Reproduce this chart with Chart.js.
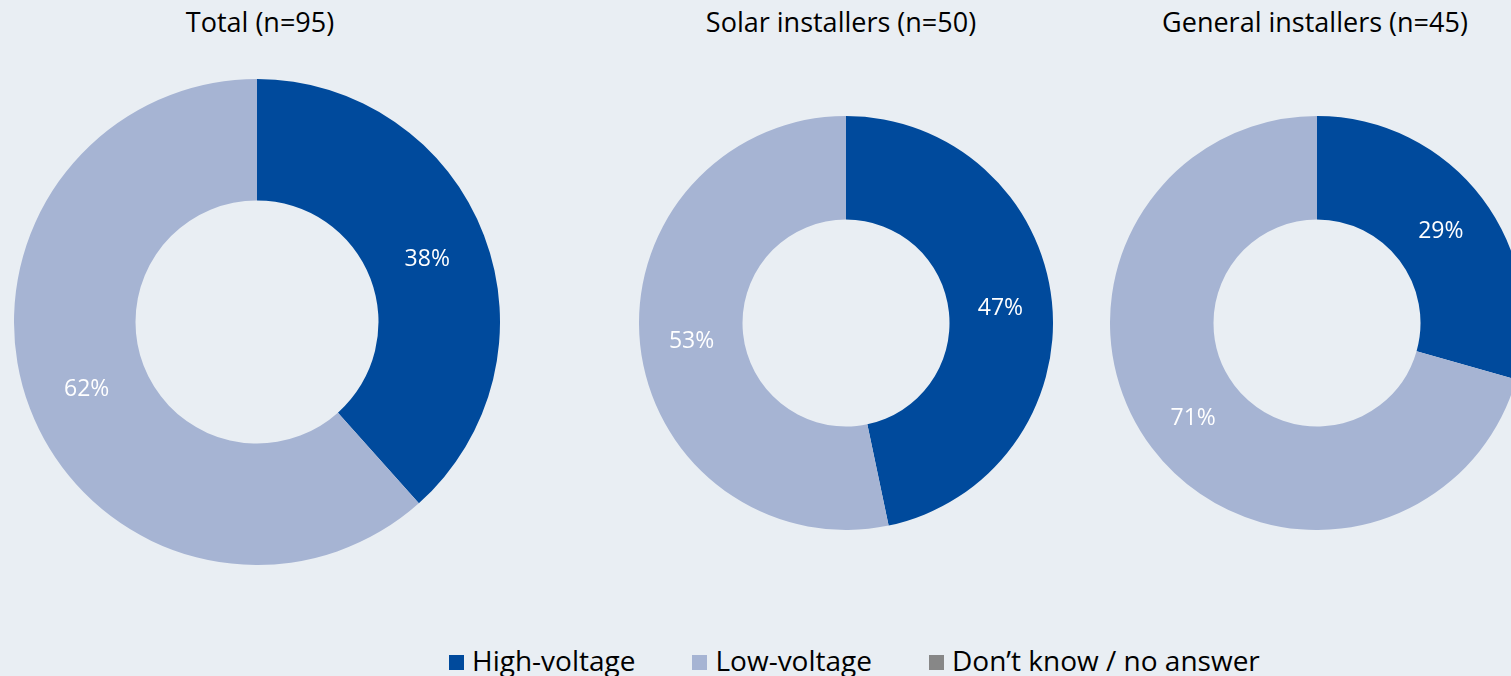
<!DOCTYPE html>
<html>
<head>
<meta charset="utf-8">
<script src="https://cdn.jsdelivr.net/npm/chart.js@4.4.1/dist/chart.umd.min.js"></script>
<style>
  html, body { margin: 0; padding: 0; }
  body {
    width: 1511px; height: 676px; overflow: hidden; position: relative;
    background: #e9eef3; font-family: "Open Sans", sans-serif; color: #000;
  }
  .title { position: absolute; top: 3px; font-size: 27px; text-align: center; width: 500px; white-space: nowrap; }
  .box { position: absolute; }
  #legend { position: absolute; top: 641px; left: 449px; font-size: 28px; white-space: nowrap; }
  #legend span.item { display: inline-block; margin-right: 57px; }
  #legend span.sw { display: inline-block; width: 15px; height: 15px; margin-right: 8px; vertical-align: 1px; }
</style>
</head>
<body>
<div class="title" style="left:10px">Total (n=95)</div>
<div class="title" style="left:591px">Solar installers (n=50)</div>
<div class="title" style="left:1065px">General installers (n=45)</div>

<div class="box" style="left:14px;top:79px;width:486px;height:486px"><canvas id="c0"></canvas></div>
<div class="box" style="left:639px;top:116px;width:414px;height:414px"><canvas id="c1"></canvas></div>
<div class="box" style="left:1110px;top:116px;width:414px;height:414px"><canvas id="c2"></canvas></div>

<div id="legend"></div>

<script>
const categories = ["High-voltage", "Low-voltage", "Don\u2019t know / no answer"];
const colors = ["#004a9c", "#a6b4d3", "#878787"];

const totalValues = [38.4, 61.6, 0];
const solarValues = [46.7, 53.3, 0];
const generalValues = [29.4, 70.6, 0];

// white percentage labels in the middle of each slice
const sliceLabels = {
  id: "sliceLabels",
  afterDatasetsDraw(chart) {
    const ctx = chart.ctx;
    const meta = chart.getDatasetMeta(0);
    const data = chart.data.datasets[0].data;
    ctx.save();
    ctx.fillStyle = "#fff";
    ctx.font = '23px "Open Sans", sans-serif';
    ctx.textAlign = "center";
    ctx.textBaseline = "middle";
    meta.data.forEach((arc, i) => {
      if (!data[i]) return;
      const p = arc.tooltipPosition();
      ctx.fillText(Math.round(data[i]) + "%", p.x, p.y + 2);
    });
    ctx.restore();
  }
};

function makeDonut(id, values) {
  new Chart(document.getElementById(id), {
    type: "doughnut",
    data: {
      labels: categories,
      datasets: [{
        data: values,
        backgroundColor: colors,
        borderWidth: 0,
        hoverOffset: 0,
        offset: 0
      }]
    },
    options: {
      responsive: true,
      maintainAspectRatio: false,
      animation: false,
      cutout: "50%",
      layout: { padding: 0 },
      plugins: {
        legend: { display: false },
        tooltip: { enabled: false }
      },
      events: []
    },
    plugins: [sliceLabels]
  });
}

makeDonut("c0", totalValues);
makeDonut("c1", solarValues);
makeDonut("c2", generalValues);

const legend = document.getElementById("legend");
categories.forEach((c, i) => {
  const item = document.createElement("span");
  item.className = "item";
  item.innerHTML = `<span class="sw" style="background:${colors[i]}"></span>${c}`;
  legend.appendChild(item);
});
</script>
</body>
</html>
